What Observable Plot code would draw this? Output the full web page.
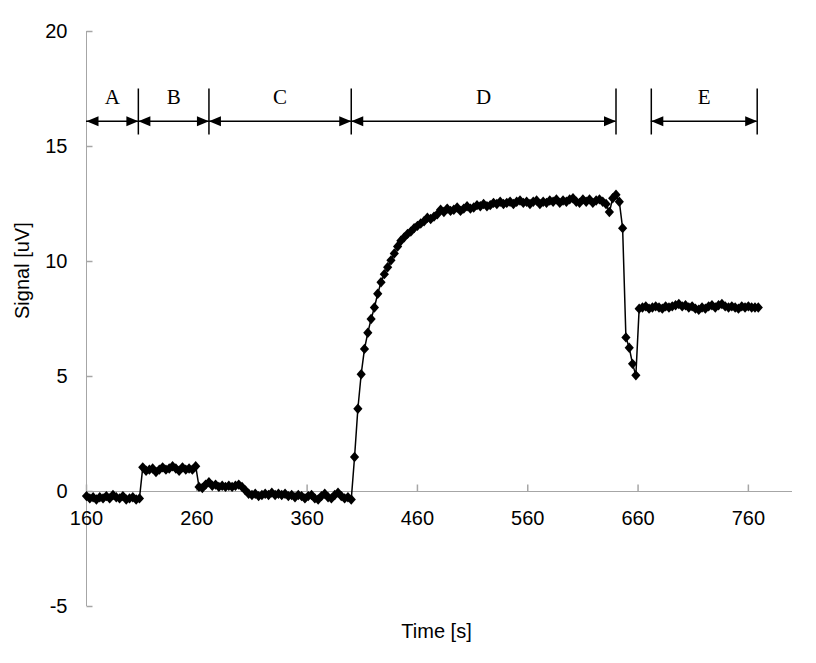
<!DOCTYPE html>
<html><head><meta charset="utf-8">
<script src="https://cdn.jsdelivr.net/npm/d3@7"></script>
<script src="https://cdn.jsdelivr.net/npm/@observablehq/plot@0.6"></script>
<style>body{margin:0;background:#fff;}</style>
</head><body><div id="chart"></div>
<script>
// ---- data ----
const xTicks = [160, 260, 360, 460, 560, 660, 760];
const yTicks = [-5, 0, 5, 10, 15, 20];
const xTitle = "Time [s]";
const yTitle = "Signal [uV]";
const sampleStart = 160;   // s, first sample
const sampleStep = 3;      // s, sampling interval
const signal = [
  -0.2,-0.3,-0.25,-0.35,-0.25,-0.3,-0.2,-0.3,-0.15,-0.25,      // 160
  -0.3,-0.2,-0.35,-0.3,-0.25,-0.35,-0.3,1.05,0.9,0.95,         // 190
  1.0,0.85,0.95,1.05,0.95,1.0,1.1,1.0,0.9,1.05,                // 220
  0.95,1.0,0.95,1.1,0.2,0.15,0.3,0.4,0.25,0.3,                 // 250
  0.2,0.25,0.2,0.25,0.2,0.25,0.3,0.2,0.05,-0.1,                // 280
  -0.15,-0.1,-0.2,-0.15,-0.1,-0.15,-0.05,-0.15,-0.1,-0.15,     // 310
  -0.1,-0.2,-0.15,-0.25,-0.15,-0.2,-0.3,-0.2,-0.15,-0.3,       // 340
  -0.35,-0.2,-0.1,-0.25,-0.3,-0.15,-0.05,-0.2,-0.3,-0.25,      // 370
  -0.35,1.5,3.6,5.1,6.2,6.9,7.5,8.0,8.6,9.1,                   // 400
  9.45,9.75,10.05,10.35,10.65,10.9,11.05,11.2,11.3,11.45,      // 430
  11.55,11.65,11.75,11.9,11.85,11.95,12.05,12.25,12.15,12.3,   // 460
  12.2,12.25,12.35,12.2,12.3,12.4,12.3,12.35,12.45,12.4,       // 490
  12.5,12.4,12.45,12.55,12.5,12.6,12.5,12.55,12.6,12.5,        // 520
  12.6,12.65,12.55,12.6,12.5,12.6,12.65,12.5,12.6,12.55,       // 550
  12.65,12.6,12.7,12.55,12.65,12.6,12.7,12.75,12.6,12.55,      // 580
  12.7,12.6,12.7,12.55,12.65,12.7,12.6,12.5,12.15,12.75,       // 610
  12.9,12.6,11.45,6.7,6.25,5.55,5.05,7.95,8.0,8.05,            // 640
  7.95,8.0,8.05,8.0,7.95,8.05,8.0,8.05,8.1,8.15,               // 670
  8.05,8.1,8.0,8.05,7.95,7.9,8.0,7.95,8.05,8.1,                // 700
  8.0,8.1,8.15,8.05,8.0,8.05,8.0,7.95,8.05,8.0,                // 730
  8.05,8.0,8.0,8.0                                             // 760
];
const phaseLabels = ["A", "B", "C", "D", "E"];
const phaseStart = [160, 207, 271, 400, 672];
const phaseEnd   = [207, 271, 400, 640, 768];
const phaseArrowY = 16.1;
const phaseBarLow = 15.5, phaseBarHigh = 17.5;
const phaseLabelY = 17.15;

// ---- derived tables ----
const series = signal.map((v, i) => ({t: sampleStart + i * sampleStep, v}));
const phases = phaseLabels.map((l, i) => ({label: l, x1: phaseStart[i], x2: phaseEnd[i]}));
const bars = [207, 271, 400, 640, 672, 768];

// custom symbols (pixel shapes)
const diamondSym = {draw(c) { c.moveTo(0, -5.2); c.lineTo(4.6, 0); c.lineTo(0, 5.2); c.lineTo(-4.6, 0); c.closePath(); }};
const headRight = {draw(c) { c.moveTo(0, 0); c.lineTo(-12, -5); c.lineTo(-12, 5); c.closePath(); }};
const headLeft  = {draw(c) { c.moveTo(0, 0); c.lineTo(12, -5); c.lineTo(12, 5); c.closePath(); }};
const tickRight = {draw(c) { c.moveTo(0, 0); c.lineTo(6, 0); }};
const tickUp    = {draw(c) { c.moveTo(0, 0); c.lineTo(0, -7); }};

const axisGray = "#a6a6a6";
const sans = "Liberation Sans, Arial, sans-serif";
const serif = "Liberation Serif, Times New Roman, serif";

const chart = Plot.plot({
  width: 816, height: 663,
  marginTop: 31, marginRight: 24, marginBottom: 57, marginLeft: 86,
  x: {domain: [160, 800], axis: null},
  y: {domain: [-5, 20], axis: null},
  style: {background: "white", fontFamily: sans},
  marks: [
    // axes
    Plot.ruleX([160], {y1: -5, y2: 20, stroke: axisGray, strokeWidth: 1}),
    Plot.ruleY([0], {x1: 160, x2: 800, stroke: axisGray, strokeWidth: 1}),
    Plot.dot(yTicks, {x: () => 160, y: d => d, symbol: tickRight, stroke: axisGray, fill: "none", r: 3}),
    Plot.dot(xTicks, {x: d => d, y: () => 0, symbol: tickUp, stroke: axisGray, fill: "none", r: 3}),
    Plot.text(yTicks, {y: d => d, frameAnchor: "left", dx: -19, textAnchor: "end", text: d => String(d), fontSize: 20, fill: "black"}),
    Plot.text(xTicks, {x: d => d, y: () => 0, dy: 27, text: d => String(d), fontSize: 20, fill: "black"}),
    Plot.text([xTitle], {frameAnchor: "bottom", dy: 31, dx: -3, text: d => d, fontSize: 20, fill: "black"}),
    Plot.text([yTitle], {frameAnchor: "left", dx: -64, rotate: -90, text: d => d, fontSize: 20, fill: "black"}),
    // phase annotations
    Plot.ruleX(bars, {x: d => d, y1: phaseBarLow, y2: phaseBarHigh, stroke: "black", strokeWidth: 1.5}),
    Plot.ruleY(phases, {x1: "x1", x2: "x2", y: () => phaseArrowY, stroke: "black", strokeWidth: 1.5}),
    Plot.dot(phases, {x: "x2", y: () => phaseArrowY, symbol: headRight, fill: "black", r: 3}),
    Plot.dot(phases, {x: "x1", y: () => phaseArrowY, symbol: headLeft, fill: "black", r: 3}),
    Plot.text(phases, {x: d => (d.x1 + d.x2) / 2, y: () => phaseLabelY, text: "label", fontFamily: serif, fontSize: 21, fill: "black"}),
    // data
    Plot.line(series, {x: "t", y: "v", stroke: "black", strokeWidth: 1.5}),
    Plot.dot(series, {x: "t", y: "v", symbol: diamondSym, fill: "black", r: 3})
  ]
});
document.getElementById("chart").appendChild(chart);
</script>
</body></html>
